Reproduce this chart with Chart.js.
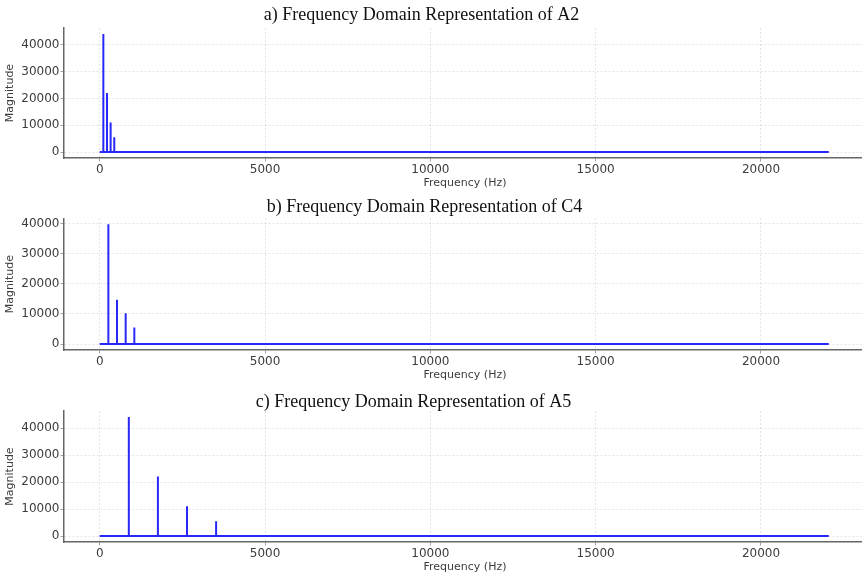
<!DOCTYPE html>
<html>
<head>
<meta charset="utf-8">
<script src="https://cdn.jsdelivr.net/npm/chart.js@4.4.1/dist/chart.umd.min.js"></script>
<style>
  html, body { margin: 0; padding: 0; background: #fff; }
  #wrap { position: relative; width: 862px; height: 576px; overflow: hidden; }
  .panel { position: absolute; height: 192px; }
</style>
</head>
<body>
<div id="wrap">
  <div class="panel" id="pA2" style="top:0px"><canvas id="chartA2"></canvas></div>
  <div class="panel" id="pC4" style="top:192px"><canvas id="chartC4"></canvas></div>
  <div class="panel" id="pA5" style="top:384px"><canvas id="chartA5"></canvas></div>
</div>
<script>
// spectrum peaks (Hz, magnitude)
const a2Freqs = [110, 220, 330, 440];
const a2Mags = [44100, 22050, 11025, 5512];
const c4Freqs = [261.63, 523.25, 784.88, 1046.5];
const c4Mags = [39700, 14700, 10200, 5500];
const a5Freqs = [880, 1760, 2640, 3520];
const a5Mags = [44100, 22050, 11025, 5512];

// frequency range of the spectrum (0 .. Nyquist)
const freqRange = [0, 22050];

const xTicks = [0, 5000, 10000, 15000, 20000];
const yTicks = [0, 10000, 20000, 30000, 40000];

// build a spike line: flat baseline with a narrow peak at each harmonic
function spectrumPoints(freqs, mags) {
  const pts = [{ x: freqRange[0], y: 0 }];
  for (let i = 0; i < freqs.length; i++) {
    pts.push({ x: freqs[i] - 0.5, y: 0 });
    pts.push({ x: freqs[i], y: mags[i] });
    pts.push({ x: freqs[i] + 0.5, y: 0 });
  }
  pts.push({ x: freqRange[1], y: 0 });
  return pts;
}

const tickFont = { family: "DejaVu Sans", size: 12 };
const labelFont = { family: "DejaVu Sans", size: 11 };
const gridStyle = {
  color: "rgba(0,0,0,0.14)",
  lineWidth: 0.8,
  tickColor: "#8a8a8a",
  tickBorderDash: [],
  tickLength: 3.5,
};
const borderStyle = { display: true, color: "#666", width: 1.5, dash: [2, 2] };

// left: page x of canvas left edge (title is centred on the canvas)
function createChart(id, title, freqs, mags, yMin, yMax, titlePad, left) {
  const canvasW = 866 - left;
  const panel = document.getElementById(id).parentNode;
  panel.style.left = left + "px";
  panel.style.width = canvasW + "px";
  const cv = document.getElementById(id);
  cv.width = canvasW;
  cv.height = 192;

  return new Chart(cv, {
    type: "line",
    data: {
      datasets: [
        {
          data: spectrumPoints(freqs, mags),
          borderColor: "rgb(40,40,252)",
          borderWidth: 2,
          pointRadius: 0,
          tension: 0,
        },
      ],
    },
    options: {
      responsive: false,
      animation: false,
      layout: { padding: { left: 0, right: 0, top: 0, bottom: 0 } },
      plugins: {
        legend: { display: false },
        tooltip: { enabled: false },
        title: {
          display: true,
          text: title,
          color: "#111",
          font: { family: "Liberation Serif", size: 18, weight: "normal", lineHeight: 1.2 },
          padding: titlePad,
        },
      },
      scales: {
        x: {
          type: "linear",
          min: -1080,
          max: 23176,
          afterBuildTicks: (axis) => { axis.ticks = xTicks.map((v) => ({ value: v })); },
          afterFit: (s) => { s.height = 34; },
          ticks: { color: "#3c3c3c", font: tickFont, padding: 1, maxRotation: 0, callback: (v) => String(v) },
          grid: gridStyle,
          border: borderStyle,
          title: { display: true, text: "Frequency (Hz)", color: "#3c3c3c", font: labelFont, padding: { top: 0, bottom: 2.4 } },
        },
        y: {
          min: yMin,
          max: yMax,
          afterBuildTicks: (axis) => { axis.ticks = yTicks.map((v) => ({ value: v })); },
          afterFit: (s) => { s.width = 64 - left; },
          ticks: { color: "#3c3c3c", font: tickFont, padding: 1, callback: (v) => String(v) },
          grid: gridStyle,
          border: borderStyle,
          title: { display: true, text: "Magnitude", color: "#3c3c3c", font: labelFont, padding: { top: 3.6 - left, bottom: 0 } },
        },
      },
    },
  });
}

createChart("chartA2", "a) Frequency Domain Representation of A2", a2Freqs, a2Mags, -2205, 46305, { top: 4.2, bottom: 2.2 }, -23);
createChart("chartC4", "b) Frequency Domain Representation of C4", c4Freqs, c4Mags, -1985, 41685, { top: 4.7, bottom: 0.0 }, -17);
createChart("chartA5", "c) Frequency Domain Representation of A5", a5Freqs, a5Mags, -2205, 46305, { top: 7.2, bottom: -1.8 }, -39);
</script>
</body>
</html>
